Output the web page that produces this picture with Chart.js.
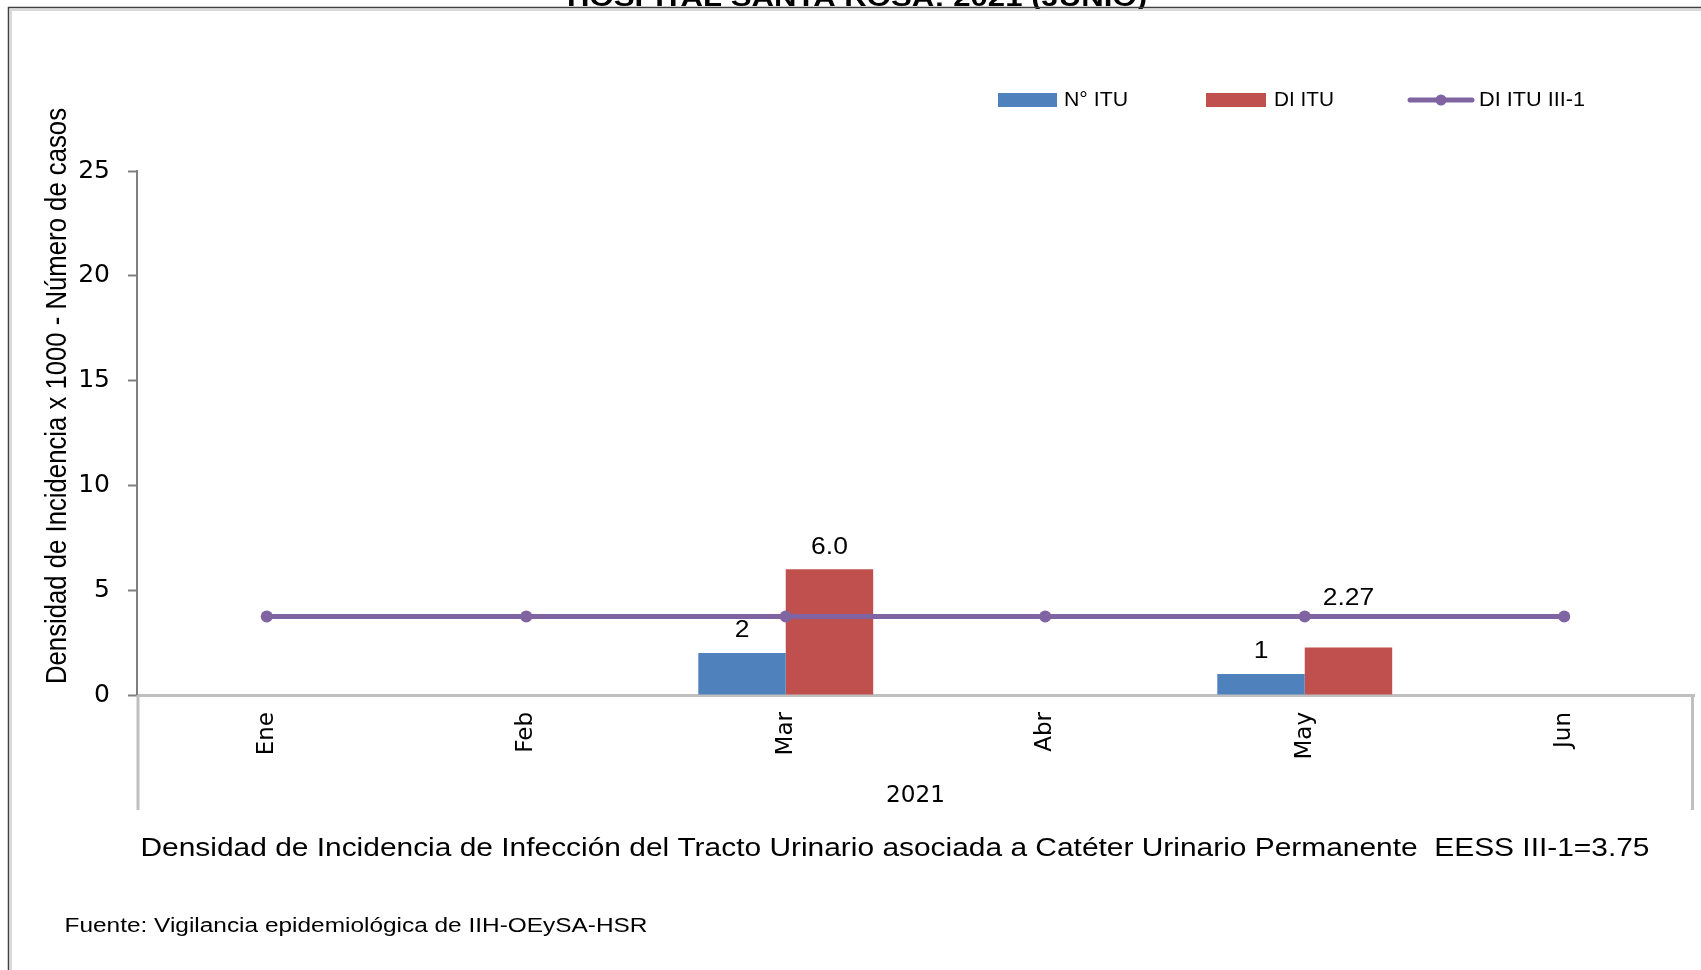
<!DOCTYPE html>
<html lang="es">
<head>
<meta charset="UTF-8">
<title>ITU asociada a CUP - Hospital Santa Rosa 2021</title>
<script src="https://cdn.jsdelivr.net/npm/chart.js"></script>
<style>
    body { margin: 0; background: #fff; }
    canvas { display: block; }
</style>
</head>
<body>
<canvas id="grafico" width="1701" height="970"></canvas>
<script>
// datos del gráfico
const meses = ['Ene', 'Feb', 'Mar', 'Abr', 'May', 'Jun'];
const nItu = [null, null, 2, null, 1, null];          // N° ITU
const diItu = [null, null, 6.0, null, 2.27, null];    // DI ITU
const diItuRef = [3.75, 3.75, 3.75, 3.75, 3.75, 3.75]; // DI ITU III-1
const yMax = 25;
const yPaso = 5;

const azul = '#4F81BD';
const rojo = '#C0504D';
const morado = '#8064A2';

// texto ajustado a un ancho dado (el original está algo estirado)
function textoAjustado(ctx, texto, x, y, ancho, fuente, giro, base) {
    ctx.save();
    ctx.font = fuente;
    const w = ctx.measureText(texto).width;
    ctx.translate(x, y);
    if (giro) ctx.rotate(giro);
    ctx.scale(ancho / w, 1);
    ctx.textAlign = 'center';
    ctx.textBaseline = base || 'middle';
    ctx.fillStyle = '#000';
    ctx.fillText(texto, 0, 0);
    ctx.restore();
}

function formato(i, v) {
    if (i === 2) return Number.isInteger(v) ? v.toFixed(1) : String(v);
    return String(v);
}

const decorado = {
    id: 'decorado',
    afterDraw(chart) {
        const ctx = chart.ctx;
        const area = chart.chartArea;

        // título (cortado arriba)
        textoAjustado(ctx, 'HOSPITAL SANTA ROSA: 2021 (JUNIO)', 857, 5.5, 580, 'bold 26px "Liberation Sans"', 0, 'alphabetic');

        // marco
        ctx.save();
        ctx.strokeStyle = '#D9D9D9';
        ctx.lineWidth = 2;
        ctx.beginPath();
        ctx.moveTo(11, 970); ctx.lineTo(11, 10); ctx.lineTo(1701, 10);
        ctx.stroke();
        ctx.strokeStyle = '#3F3F3F';
        ctx.lineWidth = 1.5;
        ctx.beginPath();
        ctx.moveTo(8.5, 970); ctx.lineTo(8.5, 7.5); ctx.lineTo(1701, 7.5);
        ctx.stroke();

        // líneas del eje de categorías (bloque 2021)
        ctx.strokeStyle = '#BFBFBF';
        ctx.lineWidth = 3;
        ctx.beginPath();
        ctx.moveTo(area.left + 1, area.bottom); ctx.lineTo(area.left + 1, 810);
        ctx.moveTo(area.right - 1.5, area.bottom); ctx.lineTo(area.right - 1.5, 810);
        ctx.stroke();
        ctx.restore();

        // leyenda
        const ds = chart.data.datasets;
        ctx.save();
        ctx.fillStyle = azul;
        ctx.fillRect(998, 93, 59, 14);
        ctx.fillStyle = rojo;
        ctx.fillRect(1206, 93, 60, 14);
        ctx.strokeStyle = morado;
        ctx.lineWidth = 5;
        ctx.lineCap = 'round';
        ctx.beginPath();
        ctx.moveTo(1410, 100); ctx.lineTo(1472, 100);
        ctx.stroke();
        ctx.fillStyle = morado;
        ctx.beginPath();
        ctx.arc(1441, 100, 5.5, 0, Math.PI * 2);
        ctx.fill();
        ctx.restore();
        textoAjustado(ctx, ds[1].label, 1064 + 32, 100, 64, '21px "Liberation Sans"');
        textoAjustado(ctx, ds[2].label, 1274 + 30, 100, 60, '21px "Liberation Sans"');
        textoAjustado(ctx, ds[0].label, 1479 + 53, 100, 106, '21px "Liberation Sans"');

        // título del eje y
        textoAjustado(ctx, 'Densidad de Incidencia x 1000 - Número de casos', 58, 396, 576, '30px "Liberation Sans"', -Math.PI / 2);

        // año bajo las categorías
        textoAjustado(ctx, '2021', (area.left + area.right) / 2, 796, 59, '23px "DejaVu Sans"');

        // leyenda inferior y fuente
        textoAjustado(ctx, 'Densidad de Incidencia de Infección del Tracto Urinario asociada a Catéter Urinario Permanente  EESS III-1=3.75',
            895, 849, 1509, '26px "Liberation Sans"');
        textoAjustado(ctx, 'Fuente: Vigilancia epidemiológica de IIH-OEySA-HSR', 356, 926, 583, '20px "Liberation Sans"');

        // etiquetas de datos de las barras
        const lineaMeta = chart.getDatasetMeta(0);
        [1, 2].forEach(i => {
            const meta = chart.getDatasetMeta(i);
            meta.data.forEach((barra, j) => {
                const v = ds[i].data[j];
                if (v == null) return;
                let y = barra.y - 22;
                const yl = lineaMeta.data[j].y;
                if (Math.abs(y - yl) < 12) y = yl - 18;
                const txt = formato(i, v);
                ctx.save();
                ctx.font = '23px "Liberation Sans"';
                const w = ctx.measureText(txt).width;
                ctx.restore();
                textoAjustado(ctx, txt, barra.x, y, w * 1.15, '23px "Liberation Sans"');
            });
        });
    }
};

new Chart(document.getElementById('grafico'), {
    type: 'bar',
    data: {
        labels: meses,
        datasets: [
            {
                type: 'line',
                label: 'DI ITU III-1',
                data: diItuRef,
                borderColor: morado,
                backgroundColor: morado,
                borderWidth: 5,
                pointRadius: 6,
                pointBackgroundColor: morado,
                pointBorderWidth: 0,
                tension: 0,
                order: 0
            },
            {
                label: 'N° ITU',
                data: nItu,
                backgroundColor: azul,
                borderWidth: 0,
                categoryPercentage: 0.674,
                barPercentage: 1,
                order: 1
            },
            {
                label: 'DI ITU',
                data: diItu,
                backgroundColor: rojo,
                borderWidth: 0,
                categoryPercentage: 0.674,
                barPercentage: 1,
                order: 1
            }
        ]
    },
    options: {
        responsive: false,
        animation: false,
        layout: { padding: { top: 171, right: 7, bottom: 0, left: 0 } },
        plugins: {
            legend: { display: false },
            tooltip: { enabled: false }
        },
        scales: {
            x: {
                offset: true,
                grid: { display: true, drawOnChartArea: false, drawTicks: false },
                border: { color: '#BFBFBF', width: 3 },
                ticks: {
                    color: '#000',
                    font: { family: 'DejaVu Sans', size: 23 },
                    minRotation: 90,
                    maxRotation: 90,
                    autoSkip: false,
                    padding: 17
                },
                afterFit(scale) { scale.height = 275; }
            },
            y: {
                min: 0,
                max: yMax,
                grid: { drawOnChartArea: false, drawTicks: true, tickLength: 9, tickColor: '#7F7F7F', tickWidth: 2 },
                border: { color: '#7F7F7F', width: 2 },
                ticks: {
                    stepSize: yPaso,
                    color: '#000',
                    font: { family: 'DejaVu Sans', size: 25 },
                    padding: 18
                },
                afterFit(scale) { scale.width = 137; }
            }
        }
    },
    plugins: [decorado]
});
</script>
</body>
</html>
